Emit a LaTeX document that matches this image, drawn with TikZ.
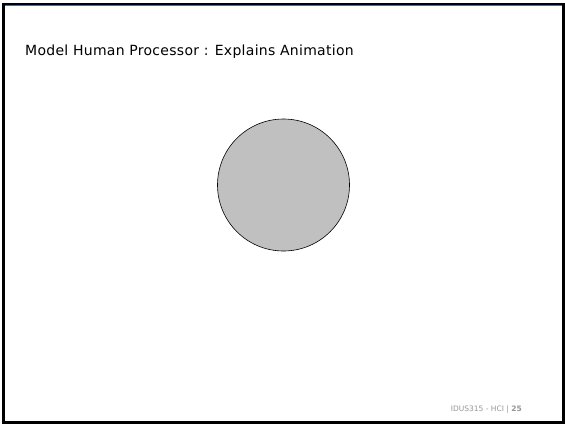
\documentclass[tikz,border=0pt]{standalone}
\usepackage{fontspec}
\setmainfont{DejaVu Sans}
\usetikzlibrary{positioning}

\begin{document}
\begin{tikzpicture}[
    x=1pt, y=-1pt,
    frame/.style={draw=black, line width=3pt},
    stripe/.style={draw={rgb,255:red,70;green,110;blue,160}, line width=1.2pt},
    title/.style={anchor=base west, inner sep=0pt, font=\addfontfeatures{LetterSpace=2}\fontsize{14}{16}\selectfont},
    blob/.style={draw, circle, fill={rgb,255:red,192;green,192;blue,192}, line width=0.6pt, minimum size=132pt, inner sep=0pt},
    footer/.style={anchor=base east, inner sep=0pt, text={rgb,255:red,150;green,150;blue,150}, font=\fontsize{7.5}{8}\selectfont}
]
\useasboundingbox (0,0) rectangle (565,424);

% Rahmen der Folie
\fill[white] (0,0) rectangle (565,424);
\draw[frame] (3.5,4.5) rectangle (563.5,422.5);
\draw[stripe] (5,5.2) -- (562,5.2);

% Titel
\node[title] (titel) at (25,55) {Model Human Processor : Explains Animation};

% Kreis in der Mitte
\node[blob] (kreis) at (283.5,185) {};

% Fusszeile
\node[footer] (fuss) at (522,411) {IDUS315 - HCI | \textbf{25}};

\end{tikzpicture}
\end{document}
